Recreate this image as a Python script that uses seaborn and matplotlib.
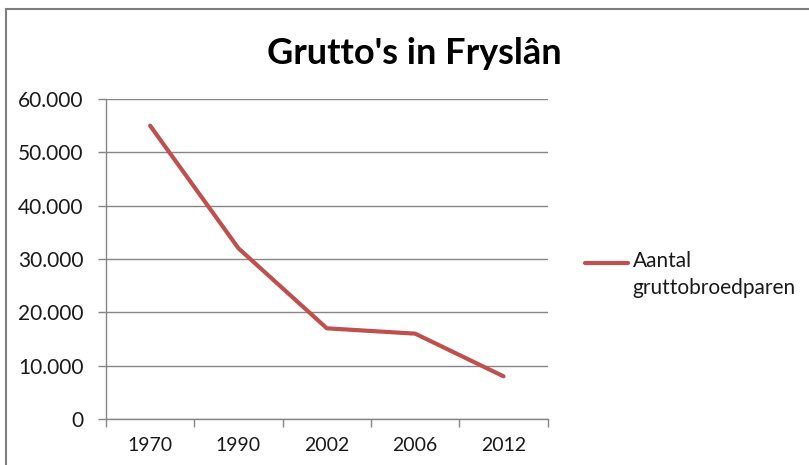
import pandas as pd
import matplotlib
matplotlib.use("Agg")
import matplotlib.pyplot as plt
import seaborn as sns
from matplotlib.patches import Rectangle

# data
years = ["1970", "1990", "2002", "2006", "2012"]
pairs = [55000, 32000, 17000, 16000, 8000]
series_name = "Aantal\ngruttobroedparen"
y_ticks = [0, 10000, 20000, 30000, 40000, 50000, 60000]

def fmt_nl(v):
    # dutch thousands separator
    return f"{v:,.0f}".replace(",", ".")

def main():
    sns.set_theme(style="white")
    plt.rcParams["font.family"] = ["Lato", "DejaVu Sans"]

    df = pd.DataFrame({"year": years, "pairs": pairs})

    fig = plt.figure(figsize=(8.09, 4.65), dpi=100)
    ax = fig.add_axes([0.131, 0.099, 0.546, 0.688])

    sns.lineplot(data=df, x="year", y="pairs", ax=ax, color="#C0504D",
                 linewidth=3, label=series_name, sort=False)

    grey = "#868686"
    txt = "#1a1a1a"
    ax.set_ylim(0, 60000)
    ax.set_xlim(-0.5, len(years) - 0.5)
    ax.set_yticks(y_ticks)
    ax.set_yticklabels([fmt_nl(v) for v in y_ticks], fontsize=15, color=txt)
    ax.yaxis.grid(True, color=grey, linewidth=1)
    ax.xaxis.grid(False)

    # category boundaries as major ticks, labels on minor ticks
    ax.set_xticks([i - 0.5 for i in range(len(years) + 1)])
    ax.set_xticklabels([])
    ax.set_xticks(range(len(years)), minor=True)
    ax.set_xticklabels(years, minor=True, fontsize=14, color=txt)
    ax.tick_params(axis="x", which="major", direction="out", length=6, width=1,
                   color=grey, bottom=True)
    ax.tick_params(axis="x", which="minor", length=0, pad=13)
    ax.tick_params(axis="y", direction="out", length=6, width=1, color=grey,
                   left=True, pad=10)

    for s in ["top", "right"]:
        ax.spines[s].set_visible(False)
    for s in ["left", "bottom"]:
        ax.spines[s].set_color(grey)
        ax.spines[s].set_linewidth(1)
    ax.set_xlabel("")
    ax.set_ylabel("")

    fig.text(0.512, 0.885, "Grutto's in Fryslân", ha="center", va="center",
             fontsize=26, fontweight="bold", color="black")

    leg = ax.legend(loc="center left", bbox_to_anchor=(0.723, 0.41),
                    bbox_transform=fig.transFigure, frameon=False,
                    fontsize=15, handlelength=2.05, handletextpad=0.25,
                    borderpad=0, borderaxespad=0)
    for t in leg.get_texts():
        t.set_color(txt)
        t.set_linespacing(1.45)
    # excel puts the key line level with the first text line
    ln = leg.get_lines()[0]
    ln.set_ydata(ln.get_ydata() + 9)

    # chart border (cropped on right and bottom in the reference)
    fig.patches.append(Rectangle((0.0074, -0.05), 1.2, 1.03, transform=fig.transFigure,
                                 fill=False, edgecolor="#7f7f7f", linewidth=1.5))

    fig.savefig("out.png", dpi=100)

if __name__ == "__main__":
    main()
